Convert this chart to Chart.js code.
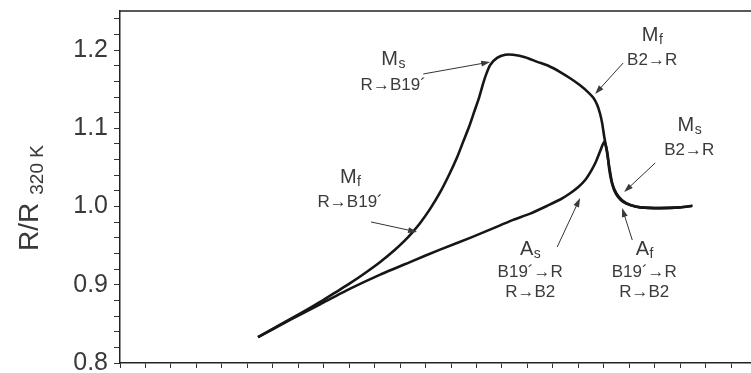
<!DOCTYPE html>
<html>
<head>
<meta charset="utf-8">
<script src="https://cdn.jsdelivr.net/npm/chart.js@4.4.1/dist/chart.umd.min.js"></script>
<style>
  html, body { margin: 0; padding: 0; background: #fff; overflow: hidden; }
  #wrap { width: 800px; height: 373px; }
</style>
</head>
<body>
<div id="wrap"><canvas id="grafico" width="800" height="373"></canvas></div>
<script>
// Curva de calentamiento (T en K, R/R320K)
var tempCalent = [154.2, 166.8, 178.6, 190.4, 202.2, 213.9, 225.7, 237.5, 249.3, 254.4, 261.1, 267.8, 272.9, 276.8, 280.0, 282.7, 285.1, 287.0, 288.6, 290.2, 291.4, 292.1, 292.9, 294.1, 295.7, 297.6, 300.4, 304.3, 312.2, 320.0, 324.8];
var resCalent = [0.833, 0.855, 0.875, 0.895, 0.913, 0.929, 0.945, 0.960, 0.976, 0.983, 0.991, 1.001, 1.009, 1.017, 1.025, 1.034, 1.046, 1.058, 1.071, 1.083, 1.069, 1.049, 1.034, 1.021, 1.012, 1.006, 1.002, 0.999, 0.998, 0.999, 1.001];

// Curva de enfriamiento (desde 325 K hacia abajo)
var tempEnfr = [324.8, 320.0, 312.2, 304.3, 300.4, 297.2, 294.9, 293.3, 292.5, 291.7, 291.0, 290.2, 289.4, 288.6, 287.4, 285.9, 283.9, 280.7, 276.8, 272.9, 268.2, 263.9, 259.1, 254.4, 251.3, 248.1, 245.4, 243.8, 242.6, 241.1, 239.1, 237.1, 234.8, 232.4, 229.3, 225.7, 221.8, 217.9, 215.1, 212.0, 208.1, 202.2, 196.3, 190.4, 184.5, 178.6, 170.7, 162.9, 154.2];
var resEnfr = [1.001, 0.999, 0.998, 0.999, 1.002, 1.008, 1.017, 1.030, 1.044, 1.060, 1.075, 1.089, 1.106, 1.118, 1.130, 1.139, 1.146, 1.155, 1.164, 1.172, 1.180, 1.185, 1.191, 1.194, 1.194, 1.190, 1.181, 1.169, 1.157, 1.140, 1.121, 1.102, 1.083, 1.063, 1.041, 1.018, 0.997, 0.979, 0.968, 0.957, 0.945, 0.929, 0.915, 0.902, 0.890, 0.878, 0.863, 0.849, 0.833];

// Valores con etiqueta en el eje Y
var etiquetasY = [0.8, 0.9, 1.0, 1.1, 1.2];

// Anotaciones de temperaturas de transformación (en unidades de datos)
var notas = [
  { letra: 'M', sub: 's', lineas: ['R\u2192B19\u00b4'], t: 207.3, r: [1.181, 1.149], desde: [219.1, 1.1695], hasta: [245.4, 1.1848] },
  { letra: 'M', sub: 'f', lineas: ['R\u2192B19\u00b4'], t: 190.4, r: [1.030, 0.999], desde: [198.6, 0.9803], hasta: [216.7, 0.9675] },
  { letra: 'M', sub: 'f', lineas: ['B2\u2192R'], t: 309.0, r: [1.2116, 1.181], desde: [297.6, 1.1835], hasta: [286.6, 1.1439] },
  { letra: 'M', sub: 's', lineas: ['B2\u2192R'], t: 323.6, r: [1.0966, 1.0659], desde: [310.2, 1.0557], hasta: [298.0, 1.0186] },
  { letra: 'A', sub: 's', lineas: ['B19\u00b4\u2192R', 'R\u2192B2'], t: 261.1, r: [0.9381, 0.9099, 0.8844], desde: [271.7, 0.9483], hasta: [280.7, 1.0109] },
  { letra: 'A', sub: 'f', lineas: ['B19\u00b4\u2192R', 'R\u2192B2'], t: 305.9, r: [0.9381, 0.9099, 0.8844], desde: [301.2, 0.9572], hasta: [297.2, 0.9981] }
];

var fuente = '"Liberation Sans", Arial, sans-serif';
var colorTexto = '#3a3a3a';

function puntos(xs, ys) {
  return xs.map(function(x, i) { return { x: x, y: ys[i] }; });
}

function flecha(ctx, x1, y1, x2, y2) {
  var ang = Math.atan2(y2 - y1, x2 - x1), L = 9, W = 3;
  var c = Math.cos(ang), s = Math.sin(ang);
  ctx.beginPath();
  ctx.moveTo(x1, y1);
  ctx.lineTo(x2 - L * 0.7 * c, y2 - L * 0.7 * s);
  ctx.stroke();
  ctx.beginPath();
  ctx.moveTo(x2, y2);
  ctx.lineTo(x2 - L * c + W * s, y2 - L * s - W * c);
  ctx.lineTo(x2 - L * c - W * s, y2 - L * s + W * c);
  ctx.closePath();
  ctx.fill();
}

// Marco superior, título del eje Y con subíndice y anotaciones
var extras = {
  id: 'extras',
  afterDraw: function(chart) {
    var ctx = chart.ctx, a = chart.chartArea;
    var sx = chart.scales.x, sy = chart.scales.y;
    ctx.save();
    ctx.strokeStyle = '#222';
    ctx.lineWidth = 1.5;
    ctx.beginPath();
    ctx.moveTo(a.left, a.top);
    ctx.lineTo(a.right, a.top);
    ctx.stroke();

    // Título del eje Y: R/R con subíndice 320 K
    ctx.fillStyle = colorTexto;
    ctx.translate(38, 198);
    ctx.rotate(-Math.PI / 2);
    ctx.textAlign = 'left';
    ctx.textBaseline = 'alphabetic';
    ctx.font = '28px ' + fuente;
    var w1 = ctx.measureText('R/R').width;
    ctx.font = '19px ' + fuente;
    var w2 = ctx.measureText('320 K').width;
    var x0 = -(w1 + 8 + w2) / 2;
    ctx.font = '28px ' + fuente;
    ctx.fillText('R/R', x0, 0);
    ctx.font = '19px ' + fuente;
    ctx.fillText('320 K', x0 + w1 + 8, 5);
    ctx.restore();

    ctx.save();
    ctx.fillStyle = colorTexto;
    ctx.strokeStyle = '#333';
    ctx.lineWidth = 1;
    ctx.textBaseline = 'alphabetic';
    notas.forEach(function(n) {
      var cx = sx.getPixelForValue(n.t);
      ctx.font = '20px ' + fuente;
      var wl = ctx.measureText(n.letra).width;
      ctx.font = '14px ' + fuente;
      var ws = ctx.measureText(n.sub).width;
      var xl = cx - (wl + ws) / 2;
      ctx.textAlign = 'left';
      ctx.font = '20px ' + fuente;
      ctx.fillText(n.letra, xl, sy.getPixelForValue(n.r[0]));
      ctx.font = '14px ' + fuente;
      ctx.fillText(n.sub, xl + wl + 0.5, sy.getPixelForValue(n.r[0]) + 3);
      ctx.textAlign = 'center';
      ctx.font = '17px ' + fuente;
      n.lineas.forEach(function(txt, i) {
        ctx.fillText(txt, cx, sy.getPixelForValue(n.r[i + 1]));
      });
      flecha(ctx, sx.getPixelForValue(n.desde[0]), sy.getPixelForValue(n.desde[1]),
                  sx.getPixelForValue(n.hasta[0]), sy.getPixelForValue(n.hasta[1]));
    });
    ctx.restore();
  }
};

var ctx = document.getElementById('grafico');

var grafico = new Chart(ctx, {
  type: 'line',
  data: {
    datasets: [{
      label: 'Calentamiento',
      data: puntos(tempCalent, resCalent),
      borderColor: '#161616',
      borderWidth: 2.6,
      pointRadius: 0,
      tension: 0.2,
      fill: false
    }, {
      label: 'Enfriamiento',
      data: puntos(tempEnfr, resEnfr),
      borderColor: '#161616',
      borderWidth: 2.6,
      pointRadius: 0,
      tension: 0.2,
      fill: false
    }]
  },
  options: {
    responsive: false,
    animation: false,
    devicePixelRatio: 1,
    layout: { padding: { top: 11, left: 0, right: 18, bottom: 0 } },
    plugins: {
      legend: { display: false },
      tooltip: { enabled: false }
    },
    scales: {
      x: {
        type: 'linear',
        min: 100,
        max: 360,
        afterFit: function(s) { s.height = 10; s.paddingLeft = 0; s.paddingRight = 0; },
        ticks: { stepSize: 10, display: false },
        grid: { display: true, drawOnChartArea: false, drawTicks: true, tickLength: 5, color: '#333', lineWidth: 1 },
        border: { display: true, color: '#222', width: 1.5 }
      },
      y: {
        min: 0.8,
        max: 1.25,
        afterFit: function(s) { s.width = 120; s.paddingTop = 0; s.paddingBottom = 0; },
        ticks: {
          stepSize: 0.02,
          includeBounds: false,
          autoSkip: false,
          padding: 6,
          color: colorTexto,
          font: { family: fuente, size: 25 },
          callback: function(v) {
            var marcada = etiquetasY.some(function(e) { return Math.abs(e - v) < 1e-6; });
            return marcada ? v.toFixed(1) : '';
          }
        },
        grid: { display: true, drawOnChartArea: false, drawTicks: true, tickLength: 6, color: '#333', lineWidth: 1 },
        border: { display: true, color: '#222', width: 1.5 }
      }
    }
  },
  plugins: [extras]
});
</script>
</body>
</html>
